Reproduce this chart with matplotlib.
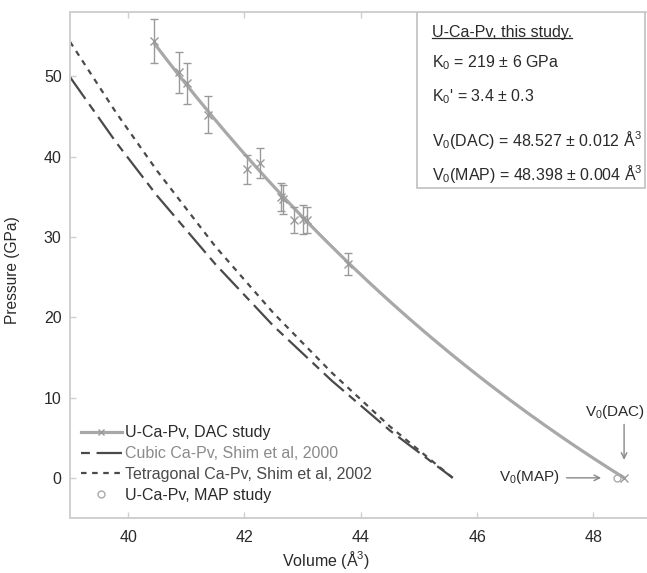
import numpy as np
import matplotlib
matplotlib.use("Agg")
import matplotlib.pyplot as plt
from matplotlib.lines import Line2D
from matplotlib.patches import Rectangle

plt.rcParams['font.family'] = ['Liberation Sans', 'DejaVu Sans']
plt.rcParams['mathtext.fontset'] = 'custom'
plt.rcParams['mathtext.rm'] = 'Liberation Sans'
plt.rcParams['mathtext.it'] = 'Liberation Sans:italic'
plt.rcParams['mathtext.bf'] = 'Liberation Sans:bold'

# ---- data ----
dac_volume = [40.45, 40.87, 41.01, 41.38, 42.04, 42.26, 42.63, 42.67, 42.86, 43.00, 43.08, 43.78]
dac_pressure = [54.4, 50.5, 49.1, 45.2, 38.4, 39.2, 35.0, 34.7, 32.1, 32.2, 32.1, 26.6]
dac_err = [2.7, 2.55, 2.5, 2.3, 1.8, 1.9, 1.75, 1.8, 1.65, 1.8, 1.65, 1.4]

# EOS parameters of the fit (from the text box)
K0 = 219.0
K0p = 3.4
V0_dac = 48.527
V0_map = 48.398

# Shim et al. curves (volume, pressure)
cubic_volume = [39.0, 39.79, 40.5, 41.5, 42.5, 43.5, 44.5, 45.58]
cubic_pressure = [49.9, 41.8, 35.1, 26.6, 18.9, 12.1, 5.9, 0.0]
tetra_volume = [39.0, 39.79, 40.5, 41.5, 42.5, 43.5, 44.5, 45.58]
tetra_pressure = [54.3, 45.5, 38.2, 28.8, 20.5, 13.1, 6.4, 0.0]

x_ticks = [40, 42, 44, 46, 48]
y_ticks = [0, 10, 20, 30, 40, 50]


def bm3(v, v0, k0, kp):
    x = v0 / v
    return 1.5 * k0 * (x ** (7 / 3) - x ** (5 / 3)) * (1 + 0.75 * (kp - 4) * (x ** (2 / 3) - 1))


W, H = 647, 573
fig = plt.figure(figsize=(W / 100, H / 100), dpi=100)
ax_left, ax_right, ax_top, ax_bot = 70, 651.6, 12, 518
ax = fig.add_axes([ax_left / W, 1 - ax_bot / H, (ax_right - ax_left) / W, (ax_bot - ax_top) / H])
ax.set_xlim(39, 49)
ax.set_ylim(-5, 58)

txt_c = '#2a2a2a'
spine_c = '#cfcfcf'
for s in ax.spines.values():
    s.set_color(spine_c)
    s.set_linewidth(1.4)
ax.spines['right'].set_visible(False)

ax.set_xticks(x_ticks)
ax.set_yticks(y_ticks)
ax.tick_params(axis='both', direction='in', length=4, width=1, color=spine_c,
               labelsize=11.5, labelcolor=txt_c, top=True)
ax.tick_params(axis='x', pad=9)
ax.tick_params(axis='y', pad=6)

# Shim curves
ax.plot(tetra_volume, tetra_pressure, color='#4a4a4a', lw=1.6, dashes=(2.5, 2.5))
ax.plot(cubic_volume, cubic_pressure, color='#4a4a4a', lw=1.6, dashes=(12, 3, 4, 3))

# fit curve
vv = np.linspace(dac_volume[0], V0_dac, 200)
ax.plot(vv, bm3(vv, V0_dac, K0, K0p), color='#a8a8a8', lw=2.3, solid_capstyle='round')

# DAC data
ax.errorbar(dac_volume, dac_pressure, yerr=dac_err, fmt='x', color='#9a9a9a',
            ms=5.5, mew=1.0, elinewidth=1.0, capsize=2.8, capthick=1.0)
ax.plot([V0_dac], [0], 'x', color='#9a9a9a', ms=5.5, mew=1.0)
ax.plot([V0_map], [0], 'o', mfc='none', mec='#aaaaaa', ms=5, mew=1.0)

# annotations
ax.annotate('', xy=(V0_dac, 1.9), xytext=(V0_dac, 7.0),
            arrowprops=dict(arrowstyle='->', color='#888888', lw=1.0))
ax.text(48.88, 8.2, 'V$_0$(DAC)', fontsize=11, color=txt_c, ha='right', va='center')
ax.annotate('', xy=(48.18, 0), xytext=(47.49, 0),
            arrowprops=dict(arrowstyle='->', color='#888888', lw=1.0))
ax.text(47.42, 0.1, 'V$_0$(MAP)', fontsize=11, color=txt_c, ha='right', va='center')

# labels
ax.set_ylabel('Pressure (GPa)', fontsize=11.2, color=txt_c)
ax.yaxis.set_label_coords(-0.086, 0.49)
ax.set_xlabel('Volume (Å$^3$)', fontsize=11.5, color=txt_c)
ax.xaxis.set_label_coords(0.44, -0.061)

# legend
handles = [
    Line2D([], [], color='#a8a8a8', lw=2.3, marker='x', ms=5, mec='#9a9a9a'),
    Line2D([], [], color='#4a4a4a', lw=1.6, dashes=(4, 3, 12, 3)),
    Line2D([], [], color='#4a4a4a', lw=1.6, dashes=(2.5, 2.5)),
    Line2D([], [], ls='none', marker='o', mfc='none', mec='#aaaaaa', ms=5),
]
labels = ['U-Ca-Pv, DAC study', 'Cubic Ca-Pv, Shim et al, 2000',
          'Tetragonal Ca-Pv, Shim et al, 2002', 'U-Ca-Pv, MAP study']
leg = ax.legend(handles, labels, loc='upper left', bbox_to_anchor=(0.019, 0.183),
                frameon=False, fontsize=11.5, numpoints=1, handlelength=2.55,
                handletextpad=0.2, labelspacing=0.36, borderpad=0, borderaxespad=0)
tcols = [txt_c, '#8a8a8a', '#4a4a4a', txt_c]
for t, c in zip(leg.get_texts(), tcols):
    t.set_color(c)

# text box
axw = ax_right - ax_left
axh = ax_bot - ax_top
def fx(px):
    return (px - ax_left) / axw
def fy(py):
    return (ax_bot - py) / axh

box = Rectangle((fx(417), fy(188)), fx(645) - fx(417), fy(12) - fy(188),
                transform=ax.transAxes, fill=True, facecolor='white',
                edgecolor='#c0c0c0', lw=1.2, zorder=5)
ax.add_patch(box)
tx = fx(432)
fs = 11.5
title = ax.text(tx, fy(32), 'U-Ca-Pv, this study.', transform=ax.transAxes,
                fontsize=fs, color=txt_c, va='center', ha='left', zorder=6)
ax.text(tx, fy(63), 'K$_0$ = 219 ± 6 GPa', transform=ax.transAxes, fontsize=fs,
        color=txt_c, va='center', ha='left', zorder=6)
ax.text(tx, fy(97), "K$_0$' = 3.4 ± 0.3", transform=ax.transAxes, fontsize=fs,
        color=txt_c, va='center', ha='left', zorder=6)
ax.text(tx, fy(140), 'V$_0$(DAC) = 48.527 ± 0.012 Å$^3$', transform=ax.transAxes,
        fontsize=fs, color=txt_c, va='center', ha='left', zorder=6)
ax.text(tx, fy(174), 'V$_0$(MAP) = 48.398 ± 0.004 Å$^3$', transform=ax.transAxes,
        fontsize=fs, color=txt_c, va='center', ha='left', zorder=6)

fig.canvas.draw()
bb = title.get_window_extent().transformed(ax.transAxes.inverted())
ax.add_line(Line2D([bb.x0, bb.x1], [bb.y0 + 0.002, bb.y0 + 0.002], transform=ax.transAxes,
                   color=txt_c, lw=0.9, zorder=6))

fig.savefig('out.png', dpi=100)
